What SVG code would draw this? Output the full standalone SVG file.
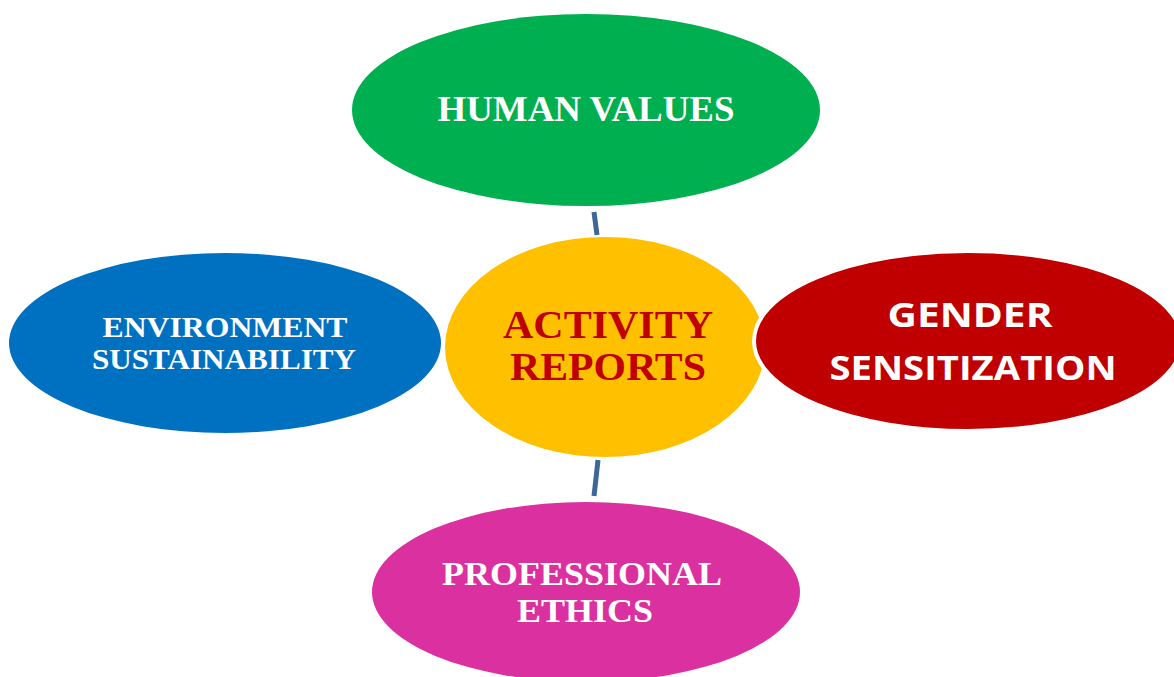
<svg xmlns="http://www.w3.org/2000/svg" width="1174" height="677" viewBox="0 0 1174 677">
<style>
.serif{font-family:"Liberation Serif","Times New Roman",serif;font-weight:bold;text-anchor:middle}
.sans{font-family:"Open Sans","Liberation Sans",Arial,sans-serif;font-weight:bold;text-anchor:middle}
.w{fill:#ffffff}
.conn{stroke:#3f6796;stroke-width:5;fill:none}
</style>
<rect width="1174" height="677" fill="#ffffff"/>
<g id="connectors">
<line class="conn" x1="594" y1="212" x2="597" y2="235"/>
<line class="conn" x1="598" y1="460" x2="594" y2="496"/>
</g>
<g id="human-values">
<ellipse cx="586" cy="110" rx="234" ry="96" fill="#00b050"/>
<text class="serif w" x="586" y="121" font-size="35" textLength="297" lengthAdjust="spacingAndGlyphs">HUMAN VALUES</text>
</g>
<g id="environment-sustainability">
<ellipse cx="225" cy="343" rx="216" ry="90" fill="#0070c0"/>
<text class="serif w" x="225" y="337" font-size="30" textLength="245" lengthAdjust="spacingAndGlyphs">ENVIRONMENT</text>
<text class="serif w" x="224" y="369" font-size="30" textLength="264" lengthAdjust="spacingAndGlyphs">SUSTAINABILITY</text>
</g>
<g id="activity-reports">
<ellipse cx="605" cy="347" rx="160" ry="110" fill="#ffc000"/>
<text class="serif" fill="#c00000" x="608" y="338" font-size="41" textLength="210" lengthAdjust="spacingAndGlyphs">ACTIVITY</text>
<text class="serif" fill="#c00000" x="608" y="380" font-size="41" textLength="196" lengthAdjust="spacingAndGlyphs">REPORTS</text>
</g>
<g id="gender-sensitization">
<ellipse cx="968" cy="341" rx="214" ry="90" fill="#c00000" stroke="#ffffff" stroke-width="4"/>
<text class="sans w" x="970" y="327" font-size="34" textLength="165" lengthAdjust="spacingAndGlyphs">GENDER</text>
<text class="sans w" x="973" y="380" font-size="34" textLength="287" lengthAdjust="spacingAndGlyphs">SENSITIZATION</text>
</g>
<g id="professional-ethics">
<ellipse cx="586" cy="592" rx="214" ry="90" fill="#db30a0"/>
<text class="serif w" x="582" y="585" font-size="34" textLength="280" lengthAdjust="spacingAndGlyphs">PROFESSIONAL</text>
<text class="serif w" x="585" y="622" font-size="34" textLength="136" lengthAdjust="spacingAndGlyphs">ETHICS</text>
</g>
</svg>
